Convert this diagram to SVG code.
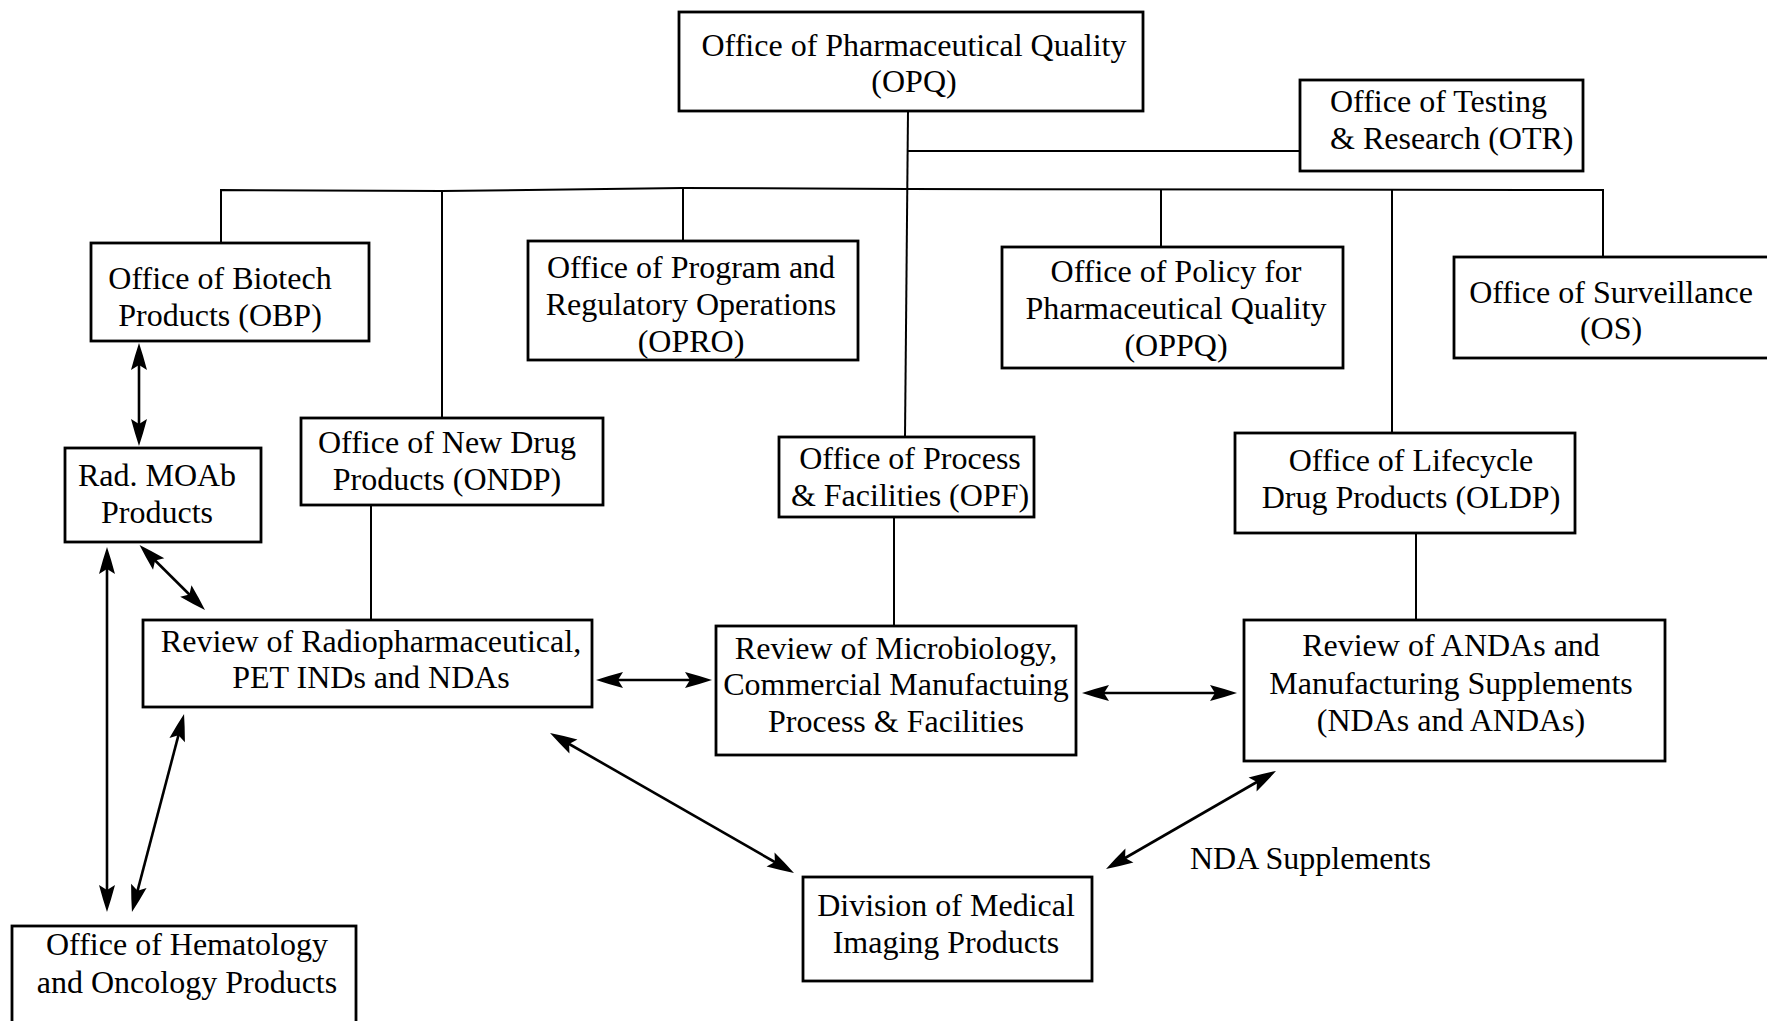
<svg xmlns="http://www.w3.org/2000/svg" width="1767" height="1021" viewBox="0 0 1767 1021">
<style>
.box{fill:#fff;stroke:#000;stroke-width:2.8}
.t{font-family:"Liberation Serif","Times New Roman",serif;font-size:32px;fill:#000;text-anchor:middle}
.ts{text-anchor:start}
.ln{fill:none;stroke:#000;stroke-width:2}
.ar{fill:none;stroke:#000;stroke-width:2.6;marker-start:url(#ah);marker-end:url(#ah)}
</style>
<defs>
<marker id="ah" markerUnits="userSpaceOnUse" markerWidth="40" markerHeight="20" viewBox="-30 -10 40 20" refX="-10" refY="0" orient="auto-start-reverse">
<path d="M0,0 Q-12,-4 -27,-8 L-22,0 L-27,8 Q-12,4 0,0 Z" fill="#000"/>
</marker>
</defs>
<rect width="1767" height="1021" fill="#fff"/>
<g id="connectors">
<path class="ln" d="M908,111 L905,437"/>
<path class="ln" d="M908,151 L1300,151"/>
<path class="ln" d="M221,243 L221,190 L442,191 L683,188 L908,189 L1603,190 L1603,257"/>
<path class="ln" d="M442,191 L442,418"/>
<path class="ln" d="M683,188 L683,241"/>
<path class="ln" d="M1161,189 L1161,247"/>
<path class="ln" d="M1392,189 L1392,433"/>
<path class="ln" d="M371,505 L371,620"/>
<path class="ln" d="M894,517 L894,626"/>
<path class="ln" d="M1416,533 L1416,620"/>
<path class="ar" d="M139,353 L139,436"/>
<path class="ar" d="M146.6,552 L197.9,603"/>
<path class="ar" d="M107,557 L107,902"/>
<path class="ar" d="M181.5,723.7 L134.5,902.3"/>
<path class="ar" d="M606,680 L702,680"/>
<path class="ar" d="M558.7,738 L785.3,868"/>
<path class="ar" d="M1092,693 L1227,693"/>
<path class="ar" d="M1267.3,776 L1114.7,864"/>
</g>
<g id="opq"><rect class="box" x="679" y="12" width="464" height="99"/>
<text class="t" x="914" y="56">Office of Pharmaceutical Quality</text>
<text class="t" x="914" y="92">(OPQ)</text></g>
<g id="otr"><rect class="box" x="1300" y="80" width="283" height="91"/>
<text class="t ts" x="1330" y="112">Office of Testing</text>
<text class="t ts" x="1330" y="149">&amp; Research (OTR)</text></g>
<g id="obp"><rect class="box" x="91" y="243" width="278" height="98"/>
<text class="t" x="220" y="289">Office of Biotech</text>
<text class="t" x="220" y="326">Products (OBP)</text></g>
<g id="opro"><rect class="box" x="528" y="241" width="330" height="119"/>
<text class="t" x="691" y="278">Office of Program and</text>
<text class="t" x="691" y="315">Regulatory Operations</text>
<text class="t" x="691" y="352">(OPRO)</text></g>
<g id="oppq"><rect class="box" x="1002" y="247" width="341" height="121"/>
<text class="t" x="1176" y="282">Office of Policy for</text>
<text class="t" x="1176" y="319">Pharmaceutical Quality</text>
<text class="t" x="1176" y="356">(OPPQ)</text></g>
<g id="os"><rect class="box" x="1454" y="257" width="330" height="101"/>
<text class="t" x="1611" y="303">Office of Surveillance</text>
<text class="t" x="1611" y="339">(OS)</text></g>
<g id="ondp"><rect class="box" x="301" y="418" width="302" height="87"/>
<text class="t" x="447" y="453">Office of New Drug</text>
<text class="t" x="447" y="490">Products (ONDP)</text></g>
<g id="opf"><rect class="box" x="779" y="437" width="255" height="80"/>
<text class="t" x="910" y="469">Office of Process</text>
<text class="t" x="910" y="506">&amp; Facilities (OPF)</text></g>
<g id="oldp"><rect class="box" x="1235" y="433" width="340" height="100"/>
<text class="t" x="1411" y="471">Office of Lifecycle</text>
<text class="t" x="1411" y="508">Drug Products (OLDP)</text></g>
<g id="radmoab"><rect class="box" x="65" y="448" width="196" height="94"/>
<text class="t" x="157" y="486">Rad. MOAb</text>
<text class="t" x="157" y="523">Products</text></g>
<g id="revrad"><rect class="box" x="143" y="620" width="449" height="87"/>
<text class="t" x="371" y="652">Review of Radiopharmaceutical,</text>
<text class="t" x="371" y="688">PET INDs and NDAs</text></g>
<g id="revmicro"><rect class="box" x="716" y="626" width="360" height="129"/>
<text class="t" x="896" y="659">Review of Microbiology,</text>
<text class="t" x="896" y="695">Commercial Manufactuing</text>
<text class="t" x="896" y="732">Process &amp; Facilities</text></g>
<g id="revanda"><rect class="box" x="1244" y="620" width="421" height="141"/>
<text class="t" x="1451" y="656">Review of ANDAs and</text>
<text class="t" x="1451" y="694">Manufacturing Supplements</text>
<text class="t" x="1451" y="731">(NDAs and ANDAs)</text></g>
<g id="dmip"><rect class="box" x="803" y="877" width="289" height="104"/>
<text class="t" x="946" y="916">Division of Medical</text>
<text class="t" x="946" y="953">Imaging Products</text></g>
<g id="ohop"><rect class="box" x="12" y="926" width="344" height="110"/>
<text class="t" x="187" y="955">Office of Hematology</text>
<text class="t" x="187" y="993">and Oncology Products</text></g>
<g id="label"><text class="t ts" x="1190" y="869">NDA Supplements</text></g>
</svg>
